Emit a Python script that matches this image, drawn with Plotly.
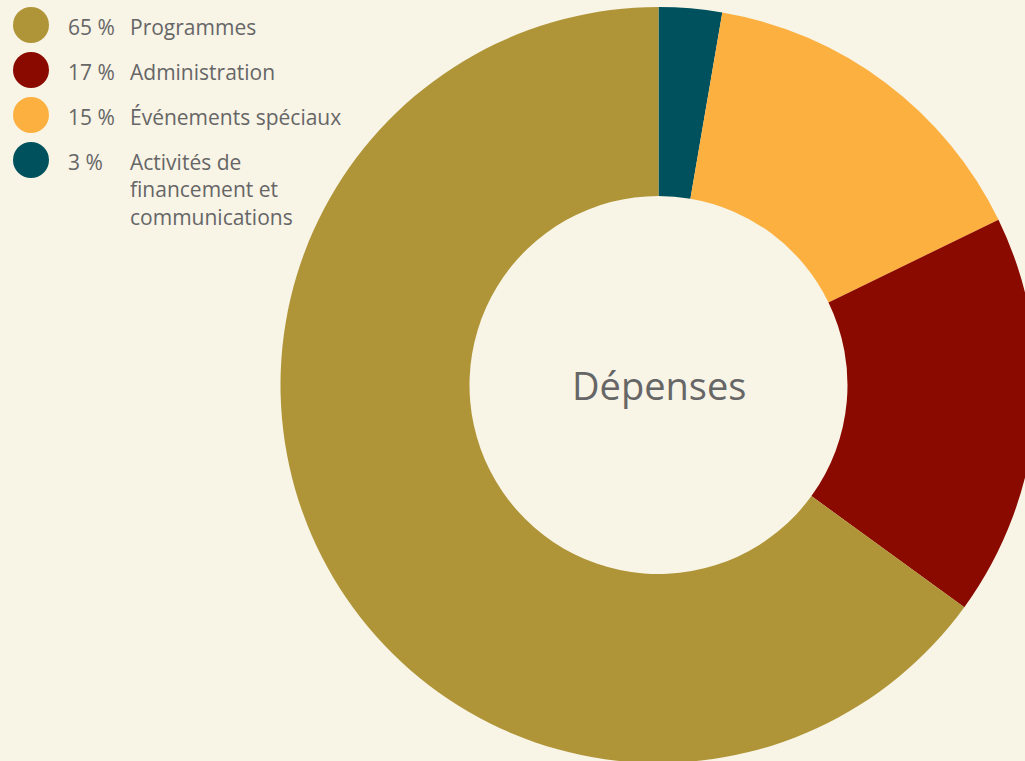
import plotly.graph_objects as go

# Data (clockwise from 12 o'clock)
labels = ["Activités de financement et communications", "Événements spéciaux", "Administration", "Programmes"]
values = [2.7, 15.1, 17.2, 65.0]
colors = ["#00515E", "#FCB040", "#8B0A00", "#B09538"]

# Legend (top-left)
legend_pct = ["65 %", "17 %", "15 %", "3 %"]
legend_txt = ["Programmes", "Administration", "Événements spéciaux",
              "Activités de<br>financement et<br>communications"]
legend_col = ["#B09538", "#8B0A00", "#FCB040", "#00515E"]

W, H = 1040, 770
BG = "#F8F4E6"
TXT = "#666666"
FONT = "Open Sans"

cx, cy, R = 658.5, 385, 378

fig = go.Figure(go.Pie(
    labels=labels, values=values, sort=False, direction="clockwise", rotation=0,
    hole=0.5, textinfo="none", hoverinfo="label",
    marker=dict(colors=colors, line=dict(width=0)),
    domain=dict(x=[(cx - R) / W, (cx + R) / W], y=[1 - (cy + R) / H, 1 - (cy - R) / H]),
    showlegend=False,
))

ann = [dict(text="Dépenses", x=cx / W, y=1 - cy / H, xref="paper", yref="paper",
            showarrow=False, font=dict(family=FONT, size=38, color=TXT),
            xanchor="center", yanchor="middle")]
shapes = []
for i, (p, t, c) in enumerate(zip(legend_pct, legend_txt, legend_col)):
    yc = 25 + 45 * i
    shapes.append(dict(type="circle", xref="paper", yref="paper",
                       x0=13 / W, x1=49 / W, y0=1 - (yc + 18) / H, y1=1 - (yc - 18) / H,
                       fillcolor=c, line=dict(width=0)))
    ann.append(dict(text=p, x=66 / W, y=1 - (yc - 14) / H, xref="paper", yref="paper",
                    showarrow=False, xanchor="left", yanchor="top", align="left",
                    font=dict(family=FONT, size=21, color=TXT)))
    ann.append(dict(text=t, x=128 / W, y=1 - (yc - 14) / H, xref="paper", yref="paper",
                    showarrow=False, xanchor="left", yanchor="top", align="left",
                    font=dict(family=FONT, size=21, color=TXT)))

fig.update_layout(
    width=W, height=H, margin=dict(l=0, r=0, t=0, b=0),
    paper_bgcolor=BG, plot_bgcolor=BG,
    annotations=ann, shapes=shapes,
)

fig.write_html("out.html", config={"displayModeBar": False}, post_script=(
    "document.documentElement.style.overflow='hidden';"
    "document.body.style.overflow='hidden';"
    "document.body.style.margin='0';"
    "document.body.style.background='" + BG + "';"))
